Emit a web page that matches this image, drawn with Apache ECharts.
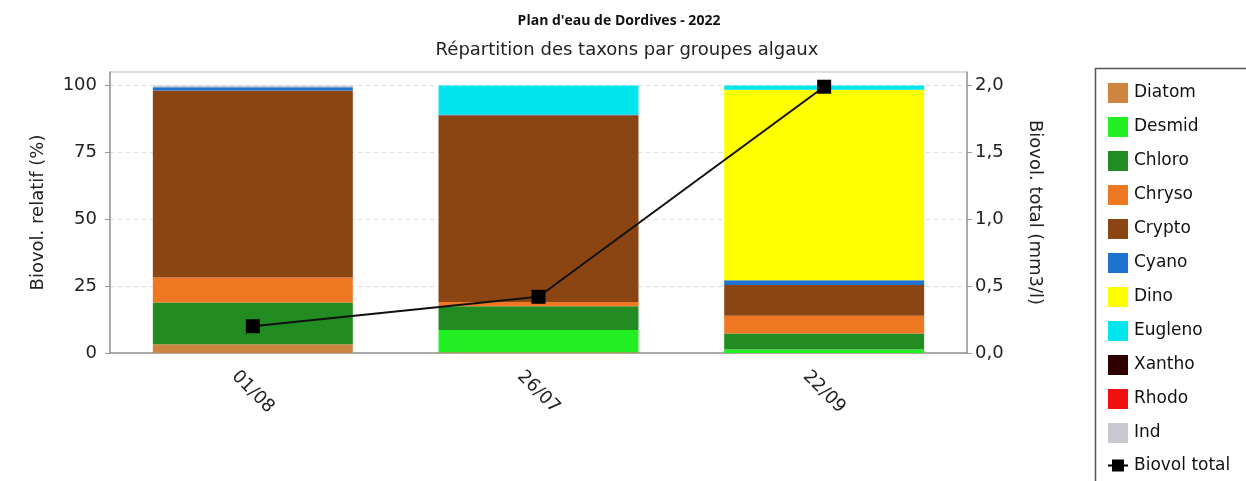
<!DOCTYPE html>
<html>
<head>
<meta charset="utf-8">
<script src="https://cdn.jsdelivr.net/npm/echarts@6/dist/echarts.min.js"></script>
<style>
html,body{margin:0;padding:0;background:#fff;}
#chart{width:1246px;height:481px;}
</style>
</head>
<body>
<div id="chart"></div>
<script>
const categories = ['01/08', '26/07', '22/09'];
const groupNames = ['Diatom', 'Desmid', 'Chloro', 'Chryso', 'Crypto', 'Cyano', 'Dino', 'Eugleno', 'Xantho', 'Rhodo', 'Ind'];
const diatom  = [3.3, 0.3, 0.0];
const desmid  = [0.0, 8.3, 1.3];
const chloro  = [15.6, 8.9, 6.0];
const chryso  = [9.3, 1.6, 6.6];
const crypto  = [69.9, 69.7, 11.5];
const cyano   = [1.2, 0.3, 1.8];
const dino    = [0.0, 0.0, 71.2];
const eugleno = [0.0, 10.9, 1.6];
const xantho  = [0, 0, 0];
const rhodo   = [0, 0, 0];
const ind     = [0.7, 0, 0];
const biovolTotal = [0.20, 0.42, 1.99];
const leftTicks = [0, 25, 50, 75, 100];
const rightTicks = [0, 0.5, 1, 1.5, 2];

const groupValues = [diatom, desmid, chloro, chryso, crypto, cyano, dino, eugleno, xantho, rhodo, ind];
const groupColors = ['#CD8540', '#22F022', '#228B22', '#EE7722', '#8B4513', '#1E72D0', '#FFFF00', '#00E5EE', '#2E0000', '#F01010', '#C8C8D0'];

const chart = echarts.init(document.getElementById('chart'));
const fontFam = 'DejaVu Sans';
const barSeries = groupNames.map((n, i) => ({
  name: n, type: 'bar', stack: 'total', data: groupValues[i],
  barWidth: '70%',
  itemStyle: { color: groupColors[i] }
}));

chart.setOption({
  animation: false,
  backgroundColor: '#fff',
  title: [
    { text: "Plan d'eau de Dordives - 2022", left: 614, textAlign: 'center', top: 9,
      textStyle: { fontFamily: 'Open Sans', fontWeight: 'bold', fontSize: 14, color: '#111' } },
    { text: 'Répartition des taxons par groupes algaux', left: 622, textAlign: 'center', top: 36,
      textStyle: { fontFamily: fontFam, fontWeight: 'normal', fontSize: 18, color: '#222' } }
  ],
  grid: { left: 110, right: 279, top: 72, bottom: 128, show: true, borderColor: '#bbb', borderWidth: 1, backgroundColor: 'transparent' },
  legend: {
    orient: 'vertical', left: 1103, top: 78, itemWidth: 20, itemHeight: 20, itemGap: 14,
    data: groupNames.map(n => ({ name: n, icon: 'rect' })).concat([{
      name: 'Biovol total',
      icon: 'path://M0,9 L20,9 L20,11 L0,11 Z M4,4 L16,4 L16,16 L4,16 Z'
    }]),
    textStyle: { fontFamily: fontFam, fontSize: 17, color: '#111', padding: [0, 0, 0, 1] }
  },
  graphic: [
    { type: 'rect', shape: { x: 1095.5, y: 68.5, width: 170, height: 430 },
      style: { fill: 'none', stroke: '#555', lineWidth: 1.5 }, z: 0 }
  ],
  xAxis: {
    type: 'category', data: categories,
    axisLine: { lineStyle: { color: '#999', width: 1.5 } },
    axisTick: { show: false },
    axisLabel: { rotate: -45, align: 'center', verticalAlign: 'middle', margin: 39,
      fontFamily: fontFam, fontSize: 18, color: '#222' }
  },
  yAxis: [
    {
      type: 'value', min: 0, max: 105, position: 'left',
      name: 'Biovol. relatif (%)', nameLocation: 'middle', nameGap: 63, nameRotate: 90,
      nameTextStyle: { fontFamily: fontFam, fontSize: 18, color: '#222' },
      axisLine: { show: true, lineStyle: { color: '#999', width: 1.5 } },
      axisTick: { show: true, length: 5, customValues: leftTicks, lineStyle: { color: '#999' } },
      axisLabel: { customValues: leftTicks, margin: 13, fontFamily: fontFam, fontSize: 18, color: '#222' },
      splitLine: { show: true, lineStyle: { color: '#ddd', type: [4, 4] } }
    },
    {
      type: 'value', min: 0, max: 2.1, position: 'right',
      name: 'Biovol. total (mm3/l)', nameLocation: 'middle', nameGap: 59, nameRotate: -90,
      nameTextStyle: { fontFamily: fontFam, fontSize: 18, color: '#222' },
      axisLine: { show: true, lineStyle: { color: '#999', width: 1.5 } },
      axisTick: { show: true, length: 5, customValues: rightTicks, lineStyle: { color: '#999' } },
      axisLabel: { customValues: rightTicks, margin: 8, fontFamily: fontFam, fontSize: 18, color: '#222',
        formatter: v => v.toFixed(1).replace('.', ',') },
      splitLine: { show: false }
    }
  ],
  series: barSeries.concat([{
    name: 'Biovol total', type: 'line', yAxisIndex: 1, data: biovolTotal,
    symbol: 'rect', symbolSize: 14, z: 10,
    itemStyle: { color: '#000' }, lineStyle: { color: '#111', width: 2 }
  }])
});
</script>
</body>
</html>
